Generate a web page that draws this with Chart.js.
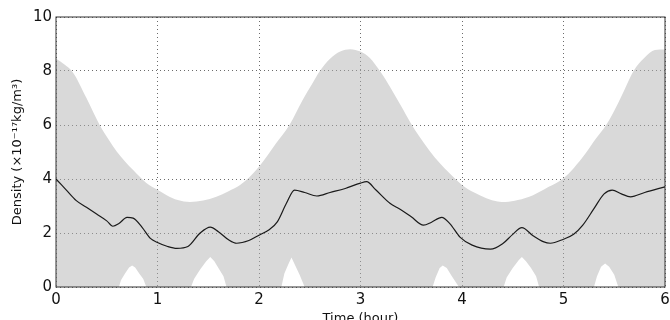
<!DOCTYPE html>
<html>
<head>
<meta charset="utf-8">
<script src="https://cdn.jsdelivr.net/npm/chart.js@4.4.0/dist/chart.umd.min.js"></script>
<style>
  body { margin: 0; background: #fff; }
  #wrap { width: 670px; height: 320px; }
</style>
</head>
<body>
<div id="wrap"><canvas id="densityChart"></canvas></div>
<script>
// mean density (black line)
meanTime = [0, 0.1, 0.2, 0.3, 0.4, 0.5, 0.56, 0.62, 0.7, 0.76, 0.85, 0.93, 1.0, 1.1, 1.19, 1.3, 1.42, 1.52, 1.6, 1.7, 1.78, 1.9, 2.0, 2.1, 2.18, 2.27, 2.35, 2.45, 2.57, 2.7, 2.85, 3.0, 3.06, 3.15, 3.29, 3.39, 3.5, 3.62, 3.7, 3.8, 3.88, 3.98, 4.1, 4.28, 4.4, 4.5, 4.59, 4.7, 4.8, 4.87, 5.0, 5.1, 5.19, 5.3, 5.4, 5.48, 5.57, 5.66, 5.8, 6.0]
meanDensity = [4.0, 3.6, 3.2, 2.95, 2.7, 2.45, 2.25, 2.35, 2.58, 2.55, 2.2, 1.8, 1.65, 1.5, 1.43, 1.5, 2.0, 2.22, 2.05, 1.75, 1.62, 1.72, 1.92, 2.12, 2.41, 3.1, 3.59, 3.5, 3.37, 3.5, 3.65, 3.85, 3.9, 3.6, 3.1, 2.88, 2.6, 2.29, 2.4, 2.58, 2.35, 1.85, 1.55, 1.4, 1.6, 1.95, 2.2, 1.9, 1.68, 1.62, 1.77, 1.95, 2.29, 2.9, 3.45, 3.59, 3.45, 3.34, 3.5, 3.71]

// upper edge of the grey band
upperTime = [0, 0.08, 0.17, 0.3, 0.43, 0.52, 0.6, 0.68, 0.76, 0.89, 1.0, 1.09, 1.2, 1.32, 1.45, 1.58, 1.7, 1.81, 1.9, 2.0, 2.08, 2.17, 2.3, 2.43, 2.52, 2.6, 2.7, 2.8, 2.9, 3.0, 3.09, 3.2, 3.3, 3.4, 3.49, 3.58, 3.68, 3.78, 3.88, 4.0, 4.12, 4.24, 4.35, 4.43, 4.55, 4.7, 4.85, 5.0, 5.1, 5.22, 5.32, 5.42, 5.52, 5.6, 5.69, 5.8, 5.9, 6.0]
upperDensity = [8.45, 8.25, 7.93, 7.0, 6.0, 5.45, 5.01, 4.65, 4.33, 3.85, 3.6, 3.4, 3.22, 3.15, 3.2, 3.34, 3.55, 3.77, 4.05, 4.45, 4.85, 5.33, 6.0, 6.93, 7.5, 8.0, 8.45, 8.72, 8.81, 8.72, 8.49, 7.95, 7.35, 6.7, 6.1, 5.57, 5.05, 4.59, 4.2, 3.78, 3.5, 3.29, 3.17, 3.15, 3.22, 3.4, 3.7, 4.03, 4.4, 4.96, 5.5, 6.0, 6.68, 7.3, 8.0, 8.5, 8.78, 8.8]

// lower edge of the grey band (the white bumps)
lowerTime = [0, 0.62, 0.64, 0.68, 0.72, 0.75, 0.78, 0.82, 0.86, 0.89, 1.33, 1.36, 1.42, 1.48, 1.52, 1.56, 1.6, 1.65, 1.68, 2.22, 2.25, 2.29, 2.32, 2.35, 2.4, 2.45, 3.71, 3.74, 3.78, 3.81, 3.85, 3.9, 3.97, 4.41, 4.44, 4.5, 4.56, 4.59, 4.63, 4.68, 4.73, 4.76, 5.3, 5.33, 5.37, 5.41, 5.45, 5.5, 5.54, 6.0]
lowerDensity = [0, 0, 0.25, 0.5, 0.72, 0.8, 0.72, 0.5, 0.3, 0, 0, 0.3, 0.65, 0.95, 1.11, 0.95, 0.7, 0.4, 0, 0, 0.5, 0.85, 1.09, 0.85, 0.45, 0, 0, 0.35, 0.7, 0.8, 0.7, 0.4, 0, 0, 0.35, 0.7, 1.0, 1.11, 0.95, 0.7, 0.4, 0, 0, 0.4, 0.75, 0.87, 0.75, 0.45, 0, 0]

xTicks = [0, 1, 2, 3, 4, 5, 6]
yTicks = [0, 2, 4, 6, 8, 10]

function toPoints(xs, ys){
  return xs.map((x, i) => ({x: x, y: ys[i]}))
}

// grid sits on top of the grey band, like the original
gridOnTop = {
  id: "gridOnTop",
  beforeDatasetDraw(chart, args){
    if (args.index !== 0) return
    const a = chart.chartArea
    chart.scales.x.drawGrid(a)
    chart.scales.y.drawGrid(a)
    const ctx = chart.ctx
    ctx.save()
    ctx.strokeStyle = "#333"
    ctx.lineWidth = 1
    ctx.strokeRect(a.left, a.top, a.right - a.left, a.bottom - a.top)
    ctx.restore()
  }
}

gridStyle = {
  color: "rgba(0,0,0,0.35)",
  lineWidth: 1,
  drawTicks: false
}

densityChart = new Chart(document.getElementById("densityChart"), {
  type: "line",
  data: {
    datasets: [{
      data: toPoints(meanTime, meanDensity),
      borderColor: "#1a1a1a",
      borderWidth: 1.2,
      pointRadius: 0,
      cubicInterpolationMode: "monotone",
      fill: false
    }, {
      data: toPoints(upperTime, upperDensity),
      borderWidth: 0,
      borderColor: "rgba(0,0,0,0)",
      backgroundColor: "#d9d9d9",
      pointRadius: 0,
      cubicInterpolationMode: "monotone",
      fill: "+1"
    }, {
      data: toPoints(lowerTime, lowerDensity),
      borderWidth: 0,
      borderColor: "rgba(0,0,0,0)",
      pointRadius: 0,
      tension: 0,
      fill: false
    }]
  },
  options: {
    responsive: true,
    maintainAspectRatio: false,
    animation: false,
    events: [],
    layout: { padding: { left: 0, right: 5, top: 17, bottom: 0 } },
    plugins: { legend: { display: false }, tooltip: { enabled: false } },
    scales: {
      x: {
        type: "linear",
        min: 0,
        max: 6,
        afterBuildTicks: s => { s.ticks = xTicks.map(v => ({value: v})) },
        afterFit: s => { s.height = 33; s.paddingRight = 0; s.paddingLeft = 0 },
        grid: gridStyle,
        border: { display: false, dash: [1, 3] },
        ticks: { color: "#111", padding: 4, font: { family: "DejaVu Sans", size: 15 } },
        title: {
          display: true,
          text: "Time (hour)",
          color: "#111",
          padding: { top: 0, bottom: -6 },
          font: { family: "DejaVu Sans", size: 13 }
        }
      },
      y: {
        min: 0,
        max: 10,
        afterBuildTicks: s => { s.ticks = yTicks.map(v => ({value: v})) },
        afterFit: s => { s.width = 56 },
        grid: gridStyle,
        border: { display: false, dash: [1, 3] },
        ticks: { color: "#111", padding: 4, font: { family: "DejaVu Sans", size: 15 } },
        title: {
          display: true,
          text: "Density (×10⁻¹⁷kg/m³)",
          color: "#111",
          padding: { top: 10, bottom: 0 },
          font: { family: "DejaVu Sans", size: 13 }
        }
      }
    }
  },
  plugins: [gridOnTop]
})
</script>
</body>
</html>
